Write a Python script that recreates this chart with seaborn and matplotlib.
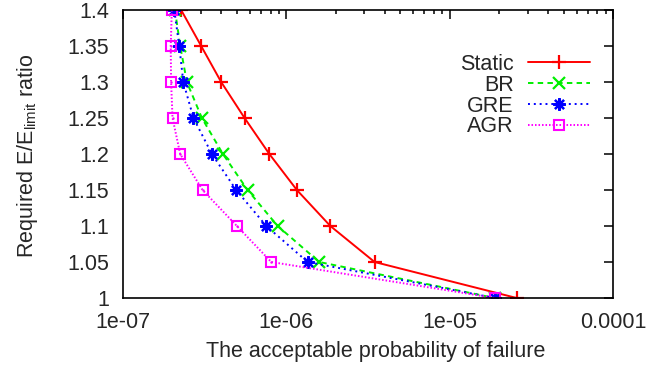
import numpy as np
import pandas as pd
import matplotlib
matplotlib.use("Agg")
import matplotlib.pyplot as plt
import seaborn as sns
from matplotlib.ticker import FixedLocator, FixedFormatter, LogLocator, NullFormatter

# ---- data ----
ratio = [1.4, 1.35, 1.3, 1.25, 1.2, 1.15, 1.1, 1.05, 1.0]
static = [2.27e-7, 3.01e-7, 3.99e-7, 5.55e-7, 7.87e-7, 1.16e-6, 1.86e-6, 3.47e-6, 2.57e-5]
br = [2.08e-7, 2.24e-7, 2.46e-7, 3.04e-7, 4.09e-7, 5.79e-7, 8.85e-7, 1.59e-6, 1.89e-5]
gre = [2.06e-7, 2.21e-7, 2.34e-7, 2.70e-7, 3.50e-7, 4.93e-7, 7.54e-7, 1.35e-6, 1.89e-5]
agr = [1.99e-7, 1.96e-7, 1.97e-7, 2.01e-7, 2.24e-7, 3.07e-7, 4.98e-7, 8.09e-7, 1.89e-5]
series_names = ["Static", "BR", "GRE", "AGR"]
x_ticks = [1e-7, 1e-6, 1e-5, 1e-4]
x_tick_labels = ["1e-07", "1e-06", "1e-05", "0.0001"]
y_ticks = [1.0, 1.05, 1.1, 1.15, 1.2, 1.25, 1.3, 1.35, 1.4]
y_tick_labels = ["1", "1.05", "1.1", "1.15", "1.2", "1.25", "1.3", "1.35", "1.4"]
x_label = "The acceptable probability of failure"
y_label = "Required E/E$_{\\mathrm{limit}}$ ratio"

sns.set_style("white")
plt.rcParams["font.family"] = ["Liberation Sans", "DejaVu Sans"]
plt.rcParams["mathtext.fontset"] = "custom"
plt.rcParams["mathtext.rm"] = "Liberation Sans"
plt.rcParams["mathtext.it"] = "Liberation Sans:italic"

FS = 15.5

fig = plt.figure(figsize=(6.72, 3.68), dpi=100)
ax = fig.add_axes([123 / 672, 1 - 298 / 368, (613 - 123) / 672, (298 - 10) / 368])

styles = {
    "Static": dict(color="#ff0000", marker="+", linestyle="-", markersize=10, mew=1.6,
                   mfc="#ff0000"),
    "BR": dict(color="#00ee00", marker="x", linestyle=(0, (2.8, 2.2)), markersize=8, mew=1.6,
               mfc="#00ee00"),
    "GRE": dict(color="#0000ff", marker=(8, 2, 0), linestyle=(0, (1.0, 2.0)), markersize=9,
                mew=1.6, mfc="#0000ff"),
    "AGR": dict(color="#ff00ff", marker="s", linestyle=(0, (0.8, 1.0)), markersize=7.5, mew=1.5,
                mfc="none"),
}
values = {"Static": static, "BR": br, "GRE": gre, "AGR": agr}

for name in series_names:
    df = pd.DataFrame({"p": values[name], "r": ratio})
    sns.lineplot(data=df, x="p", y="r", ax=ax, sort=False, estimator=None,
                 label=name, color=styles[name]["color"], linewidth=1.4)
    ln = ax.lines[-1]
    st = styles[name]
    ln.set_linestyle(st["linestyle"])
    ln.set_marker(st["marker"])
    ln.set_markersize(st["markersize"])
    ln.set_markeredgewidth(st["mew"])
    ln.set_markeredgecolor(st["color"])
    ln.set_markerfacecolor(st["mfc"])

# small centre dots of the square markers
sns.scatterplot(x=agr, y=ratio, ax=ax, color="#ff00ff", s=3, linewidth=0, legend=False)

ax.set_xscale("log")
ax.set_xlim(1e-7, 1e-4)
ax.set_ylim(1.0, 1.4)
ax.xaxis.set_major_locator(FixedLocator(x_ticks))
ax.xaxis.set_major_formatter(FixedFormatter(x_tick_labels))
ax.xaxis.set_minor_locator(LogLocator(base=10, subs=np.arange(2, 10), numticks=20))
ax.xaxis.set_minor_formatter(NullFormatter())
ax.yaxis.set_major_locator(FixedLocator(y_ticks))
ax.yaxis.set_major_formatter(FixedFormatter(y_tick_labels))

ax.tick_params(which="both", direction="in", top=True, right=True, labelsize=FS,
               width=1.1, color="black")
ax.tick_params(which="major", length=6.5)
ax.tick_params(axis="y", which="major", pad=10)
ax.tick_params(axis="x", which="major", pad=10)
ax.tick_params(which="minor", length=3.2)
for s in ax.spines.values():
    s.set_linewidth(1.2)
    s.set_color("black")

ax.set_xlabel("")
ax.set_ylabel("")
fig.text(376 / 672, 1 - 351 / 368, x_label, fontsize=FS, ha="center", va="center")
fig.text(27 / 672, 1 - 156 / 368, y_label, fontsize=FS, ha="center", va="center",
         rotation=90)

leg = ax.legend(loc="upper right", bbox_to_anchor=(590 / 672, 1 - 54 / 368),
                bbox_transform=fig.transFigure, frameon=False, markerfirst=False,
                fontsize=FS, handlelength=2.9, handletextpad=0.65, labelspacing=-0.01,
                borderpad=0, borderaxespad=0)
for t in leg.get_texts():
    t.set_ha("right")

fig.savefig("out.png", dpi=100)
